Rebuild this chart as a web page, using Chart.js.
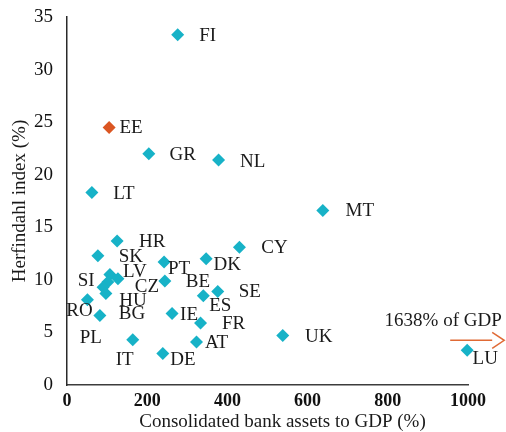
<!DOCTYPE html>
<html>
<head>
<meta charset="utf-8">
<script src="https://cdn.jsdelivr.net/npm/chart.js@4.4.1/dist/chart.umd.min.js"></script>
<style>
  html, body { margin: 0; padding: 0; background: #fff; }
  #chartDiv { width: 506px; height: 432px; }
</style>
</head>
<body>
<div id="chartDiv"><canvas id="scatterChart"></canvas></div>
<script>
// data
var countries = ['FI','EE','GR','NL','LT','MT','HR','SK','CY','PT','DK','LV','CZ','BG','SI','HU','BE','SE','ES','RO','PL','IE','FR','AT','DE','IT','UK','LU'];
var bankAssets = [276,105,204,378,62,638,125,77,430,242,347,107,127,102,90,97,244,376,340,51,82,262,333,323,239,164,538,998];
var herfindahl = [33.3,24.5,22.0,21.4,18.3,16.6,13.7,12.3,13.1,11.7,12.0,10.5,10.1,9.8,9.3,8.7,9.9,8.9,8.5,8.1,6.6,6.8,5.9,4.1,3.0,4.3,4.7,3.3];
var highlighted = ['EE'];
var xTicks = [0,200,400,600,800,1000];
var yTicks = [0,5,10,15,20,25,30,35];
var offScaleNote = '1638% of GDP'; // LU is cut at the axis end

// label offsets from each point, px
var labelOffsets = [[30,1],[22,1],[34,1],[34,2],[32,1],[37,1],[35,1],[33,1],[35,1],[15,7],[21,6],
  [25,-3],[29,8],[24,32],[-17,-6],[27,7],[33,1],[32,1],[17,10],[-8,11],[-9,22],[17,2],[33,1],
  [20,1],[20,7],[-8,20],[36,1],[18,9]];

var serif = '"Liberation Serif", "Times New Roman", serif';
var teal = '#17B2C7';
var orange = '#DB5622';

var points = bankAssets.map(function(v, i) { return {x: v, y: herfindahl[i]}; });
var colours = countries.map(function(c) { return highlighted.indexOf(c) >= 0 ? orange : teal; });

var labelPlugin = {
  id: 'labelPlugin',
  afterDatasetsDraw: function(chart) {
    var ctx = chart.ctx;
    var area = chart.chartArea;
    var meta = chart.getDatasetMeta(0);
    ctx.save();
    ctx.font = '19px ' + serif;
    ctx.fillStyle = '#1a1a1a';
    ctx.textAlign = 'center';
    ctx.textBaseline = 'middle';
    meta.data.forEach(function(pt, i) {
      ctx.fillText(countries[i], pt.x + labelOffsets[i][0], pt.y + labelOffsets[i][1]);
    });

    // arrow + note for LU
    var lu = meta.data[countries.indexOf('LU')];
    var ay = lu.y - 10;
    ctx.strokeStyle = '#E06A35';
    ctx.lineWidth = 1.5;
    ctx.beginPath();
    ctx.moveTo(lu.x - 17, ay);
    ctx.lineTo(lu.x + 25, ay);
    ctx.moveTo(lu.x + 25, ay - 8);
    ctx.lineTo(lu.x + 37, ay);
    ctx.lineTo(lu.x + 25, ay + 8);
    ctx.stroke();
    ctx.fillText(offScaleNote, lu.x - 24, lu.y - 29);

    // x axis title
    ctx.fillText('Consolidated bank assets to GDP (%)', (area.left + area.right) / 2 + 15, area.bottom + 37);
    ctx.restore();
  }
};

function scatterChart() {
  var ctx = document.getElementById('scatterChart').getContext('2d');
  new Chart(ctx, {
    type: 'scatter',
    data: {
      datasets: [{
        label: 'Herfindahl index',
        data: points,
        pointStyle: 'rectRot',
        pointRadius: 6.5,
        pointHoverRadius: 6.5,
        pointBackgroundColor: colours,
        pointBorderColor: colours,
        pointBorderWidth: 0,
        clip: false
      }]
    },
    options: {
      responsive: false,
      animation: false,
      layout: { padding: { left: 9, top: 17, right: 38, bottom: 0 } },
      plugins: { legend: { display: false }, tooltip: { enabled: false } },
      scales: {
        x: {
          type: 'linear',
          min: xTicks[0],
          max: xTicks[xTicks.length - 1],
          afterBuildTicks: function(scale) { scale.ticks = xTicks.map(function(v) { return {value: v}; }); },
          afterFit: function(scale) { scale.height = 47; scale.paddingLeft = 0; scale.paddingRight = 0; },
          grid: { drawOnChartArea: false, drawTicks: false },
          border: { color: '#3c3c3c', width: 1.5 },
          ticks: {
            padding: 6, color: '#111', font: { family: serif, size: 18, weight: 'bold' },
            callback: function(v) { return String(v); }
          }
        },
        y: {
          type: 'linear',
          min: yTicks[0],
          max: yTicks[yTicks.length - 1],
          afterBuildTicks: function(scale) { scale.ticks = yTicks.map(function(v) { return {value: v}; }); },
          afterFit: function(scale) { scale.width = 58; scale.paddingTop = 0; scale.paddingBottom = 0; },
          grid: { drawOnChartArea: false, drawTicks: false },
          border: { color: '#2a2a2a', width: 1.5 },
          ticks: { padding: 14, color: '#111', font: { family: serif, size: 19 } },
          title: {
            display: true,
            text: 'Herfindahl index (%)',
            color: '#1a1a1a',
            padding: 0,
            font: { family: serif, size: 19 }
          }
        }
      }
    },
    plugins: [labelPlugin]
  });
}

var cv = document.getElementById('scatterChart');
cv.width = 506;
cv.height = 432;
scatterChart();
</script>
</body>
</html>
